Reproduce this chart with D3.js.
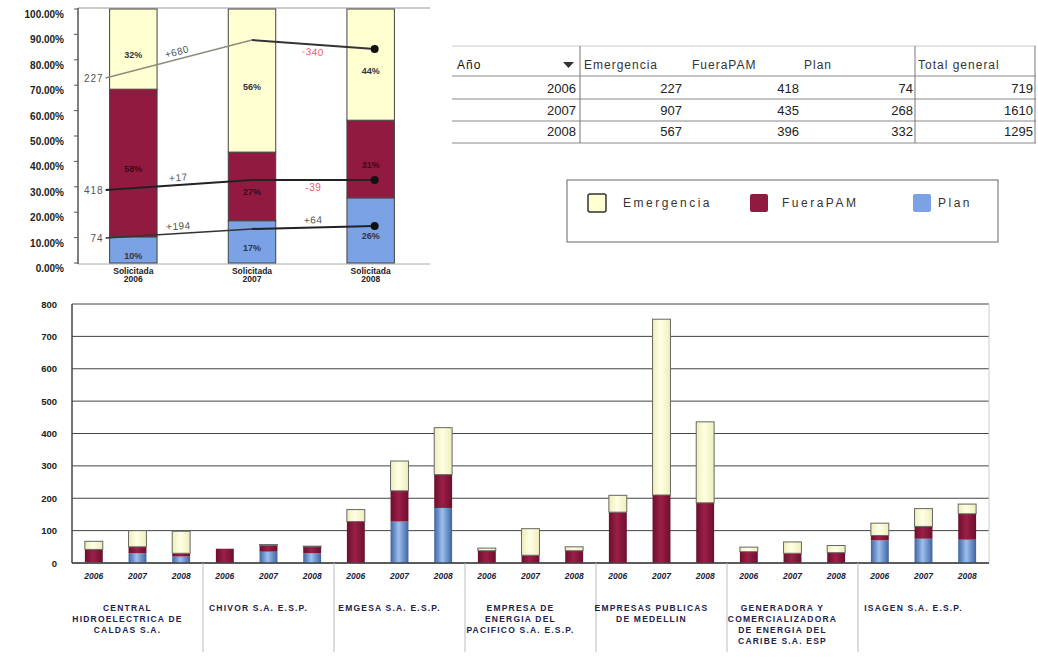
<!DOCTYPE html>
<html>
<head>
<meta charset="utf-8">
<script src="https://cdn.jsdelivr.net/npm/d3@7"></script>
<style>
body{margin:0;background:#fff}
svg{display:block}
text{font-family:"Liberation Sans",Arial,sans-serif}
</style>
</head>
<body>
<script>
// ---- data: summary per year ----
var years=["2006","2007","2008"];
var emergTot=[227,907,567];
var fueraTot=[418,435,396];
var planTot=[74,268,332];
var totalGen=[719,1610,1295];
var topCat="Solicitada";
var pctTicks=[0,10,20,30,40,50,60,70,80,90,100];
// hand drawn trend lines, level (% of left axis)
var emergLevel=[72.8,87.8,84.3];
var fueraLevel=[28.7,32.7,32.7];
var planLevel=[9.8,13.4,14.6];

// ---- data: per company and year ----
var companies=[
    ["CENTRAL","HIDROELECTRICA DE","CALDAS S.A."],
    ["CHIVOR S.A. E.S.P."],
    ["EMGESA S.A. E.S.P."],
    ["EMPRESA DE","ENERGIA DEL","PACIFICO S.A. E.S.P."],
    ["EMPRESAS PUBLICAS","DE MEDELLIN"],
    ["GENERADORA Y","COMERCIALIZADORA","DE ENERGIA DEL","CARIBE S.A. ESP"],
    ["ISAGEN S.A. E.S.P."]
];
var planVal =[2,30,20, 0,35,30, 0,128,170, 0,0,0, 0,0,0, 0,0,0, 70,75,72];
var fueraVal=[40,20,10, 44,20,20, 128,95,103, 38,24,38, 157,210,186, 35,30,32, 15,38,80];
var emergVal=[25,50,68, 0,2,2, 37,92,145, 8,82,12, 52,543,250, 14,35,22, 38,55,30];
var countTicks=[0,100,200,300,400,500,600,700,800];

var colEmerg="#ffffd2", colFuera="#921a40", colPlan="#7ba2e4";

var svg=d3.select("body").append("svg").attr("width",1038).attr("height",662);
var defs=svg.append("defs");
function cyl(id,edge,mid) {
    var g=defs.append("linearGradient").attr("id",id).attr("x1","0").attr("x2","1").attr("y1","0").attr("y2","0");
    g.append("stop").attr("offset","0%").attr("stop-color",edge);
    g.append("stop").attr("offset","45%").attr("stop-color",mid);
    g.append("stop").attr("offset","100%").attr("stop-color",edge);
}
cyl("gE","#eeeeb8","#ffffe6");
cyl("gF","#6c0f2c","#9c1f48");
cyl("gP","#3f63a0","#9cc0ee");

// =============== top left: 100% stacked ===============
var keys=["Plan","FueraPAM","Emergencia"];
var rows=years.map(function(y,i){return {year:y,Plan:planTot[i],FueraPAM:fueraTot[i],Emergencia:emergTot[i]};});
var stackT=d3.stack().keys(keys).offset(d3.stackOffsetExpand)(rows);
var colOf={"Plan":colPlan,"FueraPAM":colFuera,"Emergencia":colEmerg};

var xT=d3.scaleBand().domain(years).range([74,430]).paddingInner(0.6).paddingOuter(0.3);
var yT=d3.scaleLinear().domain([0,1]).range([263,9]);
var gT=svg.append("g");

gT.append("line").attr("x1",78).attr("x2",430).attr("y1",8).attr("y2",8).attr("stroke","#999");
gT.append("line").attr("x1",78).attr("x2",430).attr("y1",264).attr("y2",264).attr("stroke","#aaa");
gT.append("line").attr("x1",78).attr("x2",78).attr("y1",8).attr("y2",264).attr("stroke","#555").attr("stroke-width",1.5);
gT.selectAll("line.tk").data(pctTicks).enter().append("line").attr("class","tk")
    .attr("x1",74).attr("x2",78).attr("y1",function(d){return yT(d/100);}).attr("y2",function(d){return yT(d/100);})
    .attr("stroke","#555");
gT.selectAll("text.yl").data(pctTicks).enter().append("text").attr("class","yl")
    .attr("x",64).attr("y",function(d){return yT(d/100)+5.5;})
    .attr("dominant-baseline","central").attr("text-anchor","end")
    .attr("font-size",10).attr("font-weight","bold").attr("fill","#222")
    .text(function(d){return d.toFixed(2)+"%";});

var layers=gT.selectAll("g.layer").data(stackT).enter().append("g").attr("class","layer");
layers.selectAll("rect").data(function(s){return s.map(function(d){d.key=s.key;return d;});}).enter().append("rect")
    .attr("x",function(d){return xT(d.data.year);})
    .attr("width",xT.bandwidth())
    .attr("y",function(d){return yT(d[1]);})
    .attr("height",function(d){return yT(d[0])-yT(d[1]);})
    .attr("fill",function(d){return colOf[d.key];})
    .attr("stroke","#444").attr("stroke-width",1);
layers.selectAll("text").data(function(s){return s;}).enter().append("text")
    .attr("x",function(d){return xT(d.data.year)+xT.bandwidth()/2;})
    .attr("y",function(d){return yT((d[0]+d[1])/2)+6;})
    .attr("text-anchor","middle").attr("dominant-baseline","central")
    .attr("font-size",9).attr("font-weight","bold")
    .attr("fill",function(d){return d.key=="FueraPAM"?"#3a0a1a":"#334";})
    .text(function(d){return Math.round((d[1]-d[0])*100)+"%";});

gT.selectAll("text.xl").data(years).enter().append("text").attr("class","xl")
    .attr("x",function(d){return xT(d)+xT.bandwidth()/2;}).attr("y",274)
    .attr("text-anchor","middle").attr("font-size",8.5).attr("font-weight","bold").attr("fill","#222")
    .each(function(d){
        var t=d3.select(this);
        t.append("tspan").attr("x",xT(d)+xT.bandwidth()/2).text(topCat);
        t.append("tspan").attr("x",xT(d)+xT.bandwidth()/2).attr("dy",8).text(d);
    });

// trend overlay
function ptX(i) {
    var c=xT(years[i])+xT.bandwidth()/2;
    if(i===0){return xT(years[i])-4;}
    if(i===2){return c+4;}
    return c;
}
var trends=[
    {vals:emergTot,level:emergLevel,c1:"#8c8c80",c2:"#333",w1:1.5},
    {vals:fueraTot,level:fueraLevel,c1:"#222",c2:"#222",w1:2},
    {vals:planTot,level:planLevel,c1:"#333",c2:"#222",w1:1.5}
];
trends.forEach(function(tr){
    var pts=tr.level.map(function(l,i){return [ptX(i),yT(l/100)];});
    for(var j=0;j<2;j++){
        gT.append("path").attr("d",d3.line()([pts[j],pts[j+1]]))
            .attr("stroke",j===0?tr.c1:tr.c2).attr("stroke-width",j===0?tr.w1:2).attr("fill","none");
        var d=tr.vals[j+1]-tr.vals[j];
        var mx=(pts[j][0]+pts[j+1][0])/2, my=(pts[j][1]+pts[j+1][1])/2;
        var ang=Math.atan2(pts[j+1][1]-pts[j][1],pts[j+1][0]-pts[j][0])*180/Math.PI;
        gT.append("text").attr("transform","translate("+mx+","+my+") rotate("+ang+")")
            .attr("y",d>0?-4:11).attr("text-anchor","middle")
            .attr("font-size",10).attr("letter-spacing",0.5)
            .attr("fill",d>0?"#555":"#e8606a")
            .text((d>0?"+":"")+d);
    }
    gT.append("circle").attr("cx",pts[2][0]).attr("cy",pts[2][1]).attr("r",4).attr("fill","#111");
    gT.append("rect").attr("x",pts[0][0]-26).attr("y",pts[0][1]-7).attr("width",24).attr("height",14).attr("fill","#fff");
    gT.append("text").attr("x",pts[0][0]-2).attr("y",pts[0][1]+4).attr("text-anchor","end")
        .attr("font-size",10).attr("letter-spacing",1).attr("fill","#555").text(tr.vals[0]);
});

// =============== pivot table ===============
var gTab=svg.append("g");
var rowY=[93,115,136];
var hLines=[46,76,99,121,143];
gTab.selectAll("line.h").data(hLines).enter().append("line").attr("class","h")
    .attr("x1",452).attr("x2",1036).attr("y1",function(d){return d;}).attr("y2",function(d){return d;})
    .attr("stroke",function(d,i){return i===0?"#ccc":"#888";});
[580,915,1035].forEach(function(x){
    gTab.append("line").attr("x1",x).attr("x2",x).attr("y1",46).attr("y2",143).attr("stroke","#777");
});
var hdr=[["Año",457],["Emergencia",584],["FueraPAM",692],["Plan",804],["Total general",918]];
gTab.selectAll("text.hd").data(hdr).enter().append("text").attr("class","hd")
    .attr("x",function(d){return d[1];}).attr("y",69).attr("font-size",12).attr("letter-spacing",1)
    .attr("fill",function(d,i){return i===0?"#111":"#333";}).text(function(d){return d[0];});
gTab.append("path").attr("d","M563,62 L574,62 L568.5,68 Z").attr("fill","#333");
var colRight=[576,682,799,913,1033];
var cols=[years,emergTot,fueraTot,planTot,totalGen];
cols.forEach(function(arr,c){
    gTab.selectAll("text.c"+c).data(arr).enter().append("text").attr("class","c"+c)
        .attr("x",colRight[c]).attr("y",function(d,i){return rowY[i];})
        .attr("text-anchor","end").attr("font-size",13)
        .attr("fill","#222").text(function(d){return d;});
});

// =============== legend ===============
var gL=svg.append("g");
gL.append("rect").attr("x",567).attr("y",180).attr("width",431).attr("height",62).attr("fill","#fff").attr("stroke","#666");
var legItems=[["Emergencia",colEmerg,588,623],["FueraPAM",colFuera,750,782],["Plan",colPlan,913,938]];
legItems.forEach(function(it){
    gL.append("rect").attr("x",it[2]).attr("y",194).attr("width",18).attr("height",18).attr("rx",2)
        .attr("fill",it[1]).attr("stroke",it[0]=="Emergencia"?"#333":"none").attr("stroke-width",1.5);
    gL.append("text").attr("x",it[3]).attr("y",207).attr("font-size",12).attr("letter-spacing",2.5)
        .attr("fill","#333").text(it[0]);
});

// =============== bottom: stacked columns per company ===============
var n=planVal.length;
var xB=d3.scaleBand().domain(d3.range(n)).range([72,989]).paddingInner(0.59).paddingOuter(0.295);
var yB=d3.scaleLinear().domain([0,800]).range([563,304]);
var gB=svg.append("g");
gB.selectAll("line.grid").data(countTicks).enter().append("line").attr("class","grid")
    .attr("x1",72).attr("x2",989).attr("y1",function(d){return yB(d);}).attr("y2",function(d){return yB(d);})
    .attr("stroke","#444").attr("stroke-width",1);
gB.append("line").attr("x1",989).attr("x2",989).attr("y1",304).attr("y2",563).attr("stroke","#ccc");
gB.append("line").attr("x1",72).attr("x2",72).attr("y1",304).attr("y2",563).attr("stroke","#444").attr("stroke-width",1.5);
gB.selectAll("text.yl").data(countTicks).enter().append("text").attr("class","yl")
    .attr("x",57).attr("y",function(d){return yB(d);}).attr("dominant-baseline","central")
    .attr("text-anchor","end").attr("font-size",9.5).attr("font-weight","bold").attr("fill","#222")
    .text(function(d){return d;});

var rowsB=d3.range(n).map(function(i){return {i:i,Plan:planVal[i],FueraPAM:fueraVal[i],Emergencia:emergVal[i]};});
var stackB=d3.stack().keys(keys)(rowsB);
var gradOf={"Plan":"url(#gP)","FueraPAM":"url(#gF)","Emergencia":"url(#gE)"};
gB.selectAll("g.ser").data(stackB).enter().append("g").attr("class","ser")
    .selectAll("rect").data(function(s){return s.map(function(d){d.key=s.key;return d;});}).enter().append("rect")
    .filter(function(d){return d[1]>d[0];})
    .attr("x",function(d){return xB(d.data.i);})
    .attr("width",xB.bandwidth())
    .attr("y",function(d){return yB(d[1]);})
    .attr("height",function(d){return yB(d[0])-yB(d[1]);})
    .attr("fill",function(d){return gradOf[d.key];})
    .attr("stroke",function(d){return d.key=="Emergencia"?"#666":"none";})
    .attr("stroke-width",1);

gB.append("line").attr("x1",72).attr("x2",989).attr("y1",563).attr("y2",563).attr("stroke","#444").attr("stroke-width",1.5);

gB.selectAll("text.yr").data(d3.range(n)).enter().append("text").attr("class","yr")
    .attr("x",function(i){return xB(i)+xB.bandwidth()/2;}).attr("y",579)
    .attr("text-anchor","middle").attr("font-size",8.5).attr("font-weight","bold").attr("font-style","italic")
    .attr("fill","#1c1c3c").text(function(i){return years[i%3];});

var step=xB.step(), x0=xB.range()[0];
d3.range(1,companies.length).forEach(function(g){
    gB.append("line").attr("x1",x0+3*g*step).attr("x2",x0+3*g*step).attr("y1",563).attr("y2",652).attr("stroke","#bbb");
});
gB.selectAll("text.co").data(companies).enter().append("text").attr("class","co")
    .attr("y",611).attr("text-anchor","middle").attr("font-size",8.5).attr("font-weight","bold")
    .attr("letter-spacing",1.2).attr("fill","#22224a")
    .each(function(lines,g){
        var cx=x0+(3*g+1.5)*step-10;
        var t=d3.select(this);
        lines.forEach(function(l,k){
            t.append("tspan").attr("x",cx).attr("dy",k===0?0:11).text(l);
        });
    });
</script>
</body>
</html>
